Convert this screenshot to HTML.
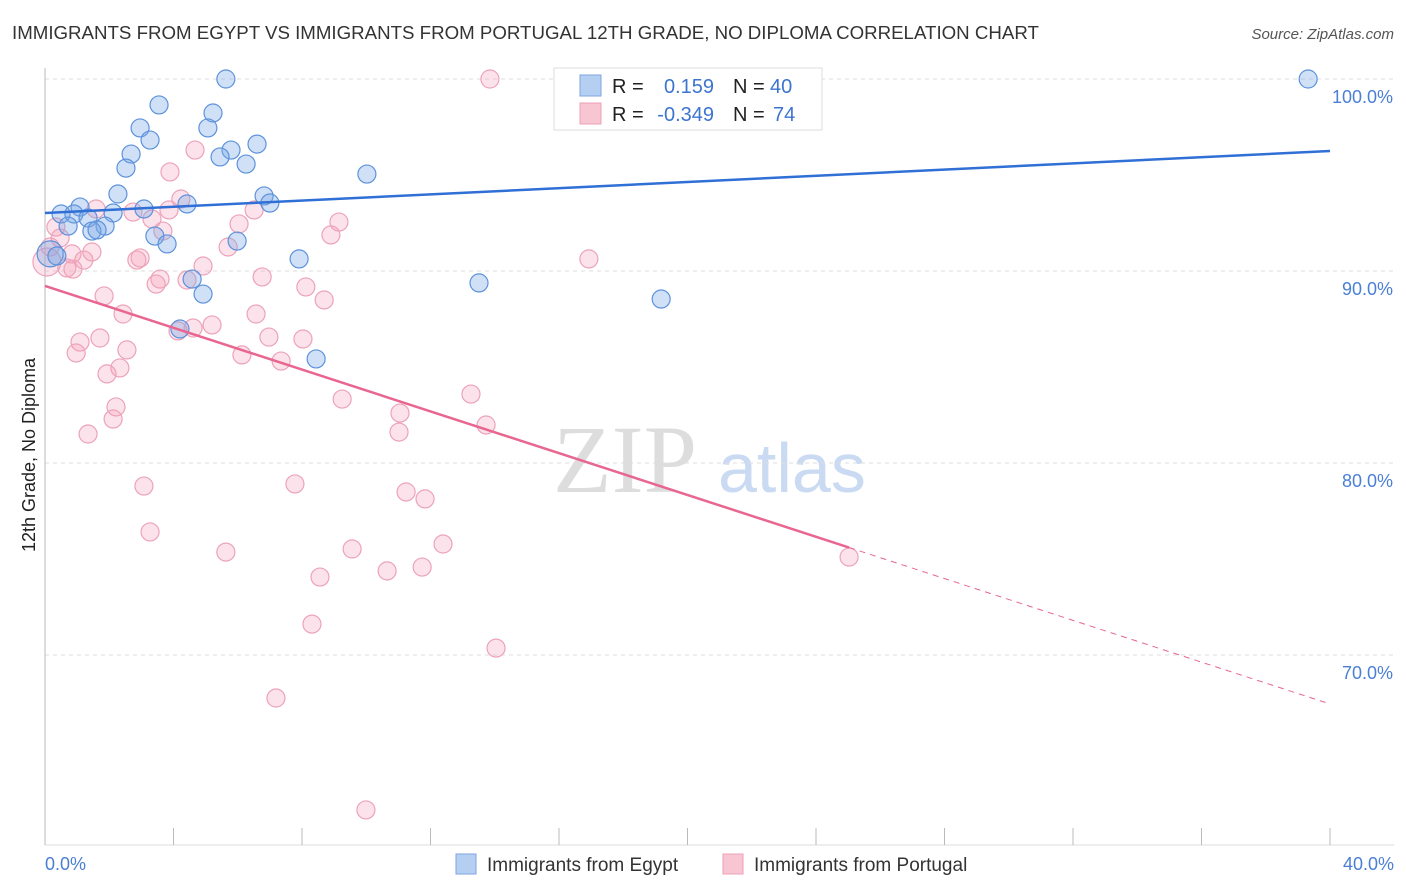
<!DOCTYPE html>
<html><head><meta charset="utf-8">
<style>
body{margin:0;background:#fff;font-family:"Liberation Sans",sans-serif;}
svg{display:block}
</style></head>
<body>
<svg id="chart" width="1406" height="892" xmlns="http://www.w3.org/2000/svg">
<text x="12" y="39" font-size="18.7" fill="#333">IMMIGRANTS FROM EGYPT VS IMMIGRANTS FROM PORTUGAL 12TH GRADE, NO DIPLOMA CORRELATION CHART</text>
<text x="1394" y="39" font-size="15" fill="#555" font-style="italic" text-anchor="end">Source: ZipAtlas.com</text>
<text x="553" y="492" font-size="96" fill="#ddd" font-family="Liberation Serif">ZIP</text>
<text x="718" y="492" font-size="70" fill="#c9daf2">atlas</text>
<g id="grid"></g>
<g id="axes"></g>
<g id="marks"></g>
<text transform="translate(35,455) rotate(-90)" font-size="18" fill="#222" text-anchor="middle">12th Grade, No Diploma</text>
<text x="45" y="870" font-size="18" fill="#4a7fd4">0.0%</text>
<text x="1394" y="870" font-size="18" fill="#4a7fd4" text-anchor="end">40.0%</text>
<g>
<rect x="554" y="68" width="268" height="62" fill="#fff" stroke="#ddd"/>
<rect x="580" y="75" width="21" height="21" fill="#b5cff3" stroke="#7ea6e0"/>
<rect x="580" y="103" width="21" height="21" fill="#f8c5d3" stroke="#eda0b7"/>
<text x="612" y="93" font-size="20" fill="#222">R =</text>
<text x="714" y="93" font-size="20" fill="#3d74d0" text-anchor="end">0.159</text>
<text x="733" y="93" font-size="20" fill="#222">N =</text>
<text x="770" y="93" font-size="20" fill="#3d74d0">40</text>
<text x="612" y="121" font-size="20" fill="#222">R =</text>
<text x="714" y="121" font-size="20" fill="#3d74d0" text-anchor="end">-0.349</text>
<text x="733" y="121" font-size="20" fill="#222">N =</text>
<text x="773" y="121" font-size="20" fill="#3d74d0">74</text>
</g>
<g>
<rect x="456" y="854" width="20" height="20" fill="#b5cff3" stroke="#7ea6e0"/>
<text x="487" y="871" font-size="19" fill="#333">Immigrants from Egypt</text>
<rect x="723" y="854" width="20" height="20" fill="#f8c5d3" stroke="#eda0b7"/>
<text x="754" y="871" font-size="19" fill="#333">Immigrants from Portugal</text>
</g>
</svg>
<script>
const yTicks=[100,90,80,70];
const yTickLabels=["100.0%","90.0%","80.0%","70.0%"];
const xTicks=[0,4,8,12,16,20,24,28,32,36,40];
const egyptX=[5.63,39.32,3.55,5.23,2.96,5.07,3.27,6.60,2.68,5.79,5.45,6.26,2.52,10.02,2.27,6.82,7.00,1.09,3.08,4.42,0.50,0.90,2.12,1.34,0.72,1.87,1.46,1.62,3.42,5.98,3.80,0.16,0.37,7.91,13.51,4.58,4.92,19.18,4.20,8.44];
const egyptY=[100,100,98.65,98.23,97.45,97.45,96.82,96.61,96.09,96.30,95.94,95.57,95.36,95.05,94.01,93.91,93.54,93.33,93.23,93.49,92.97,92.97,93.02,92.76,92.34,92.34,92.08,92.14,91.82,91.56,91.41,90.89,90.78,90.63,89.38,89.58,88.80,88.54,86.98,85.42];
const portX=[13.85,16.59,4.67,3.89,4.23,1.59,2.74,3.33,6.51,3.86,6.04,9.15,0.34,8.90,3.67,0.16,5.70,0.84,1.46,2.96,2.86,16.93,1.21,0.68,0.87,4.92,6.76,3.58,4.42,3.46,8.12,1.84,8.69,2.43,6.57,5.20,4.14,4.61,1.71,6.97,1.09,8.03,2.55,0.97,6.13,7.35,2.33,1.93,13.26,9.25,11.05,2.21,2.12,13.73,11.02,1.34,3.08,7.78,11.24,11.83,3.27,5.63,9.56,12.39,10.65,11.74,8.56,8.31,14.04,7.19,9.99,25.03,0.06,0.47];
const portY=[100,100,96.30,95.16,93.75,93.23,93.07,92.71,93.18,93.18,92.45,92.55,92.29,91.88,92.08,91.25,91.25,90.89,90.99,90.68,90.57,90.63,90.57,90.16,90.10,90.26,89.69,89.58,89.53,89.32,89.17,88.70,88.49,87.76,87.76,87.19,86.88,87.03,86.51,86.56,86.30,86.46,85.89,85.73,85.63,85.31,84.95,84.64,83.59,83.33,82.60,82.92,82.29,81.98,81.61,81.51,78.80,78.91,78.49,78.13,76.41,75.36,75.52,75.78,74.38,74.58,74.06,71.61,70.36,67.76,61.93,75.10,90.47,91.72];
const egyptTrend=[93.02,96.25];
const portTrend=[89.22,67.45];
const portSolidEnd=25.03;

const NS="http://www.w3.org/2000/svg";
const sx=v=>45+v*(1285/40);
const sy=v=>79+(100-v)*19.2;
function mk(tag,attrs,parent){const e=document.createElementNS(NS,tag);for(const k in attrs)e.setAttribute(k,attrs[k]);parent.appendChild(e);return e;}
const grid=document.getElementById('grid'),axes=document.getElementById('axes'),marks=document.getElementById('marks');
yTicks.forEach((t,i)=>{
 const l=mk('line',{x1:45,x2:1394,y1:sy(t),y2:sy(t),stroke:'#ddd','stroke-dasharray':'4,4'},grid);
 
 
 const tx=mk('text',{x:1393,y:sy(t)+24,'font-size':18,fill:'#4a7fd4','text-anchor':'end'},grid);
 tx.textContent=yTickLabels[i];
 
 
});
const ya=mk('line',{x1:45,x2:45,y1:68,y2:845,stroke:'#bbb'},axes);


const xa=mk('line',{x1:45,x2:1394,y1:845,y2:845,stroke:'#ddd'},axes);


xTicks.forEach(t=>{
 const l=mk('line',{x1:sx(t),x2:sx(t),y1:828,y2:845,stroke:'#bbb'},axes);
 
 
});
portX.forEach((x,i)=>{
 const big=(x<0.2&&portY[i]>90&&portY[i]<91);
 const c=mk('circle',{cx:sx(x),cy:sy(portY[i]),r:big?14:9,fill:'rgba(244,160,185,0.3)',stroke:'#eca3ba','stroke-width':1.2},marks);
 
 
});
egyptX.forEach((x,i)=>{
 const big=(x<0.2&&egyptY[i]>90.5&&egyptY[i]<91);
 const c=mk('circle',{cx:sx(x),cy:sy(egyptY[i]),r:big?13:9,fill:'rgba(120,165,230,0.35)',stroke:'#5d92dc','stroke-width':1.2},marks);
 
 
});
const bl=mk('line',{x1:sx(0),y1:sy(egyptTrend[0]),x2:sx(40),y2:sy(egyptTrend[1]),stroke:'#2f6fd6','stroke-width':2.5},marks);


const py=x=>portTrend[0]+(portTrend[1]-portTrend[0])*x/40;
const pl=mk('line',{x1:sx(0),y1:sy(py(0)),x2:sx(portSolidEnd),y2:sy(py(portSolidEnd)),stroke:'#e8668f','stroke-width':2.5},marks);


const pd=mk('line',{x1:sx(portSolidEnd),y1:sy(py(portSolidEnd)),x2:sx(40),y2:sy(py(40)),stroke:'#e8668f','stroke-width':1,'stroke-dasharray':'6,5'},marks);


</script>
</body></html>
